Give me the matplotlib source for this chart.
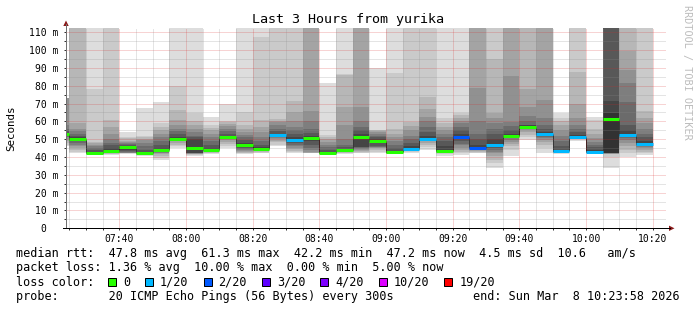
import matplotlib
matplotlib.use("Agg")
import matplotlib.pyplot as plt
from matplotlib.patches import Rectangle, Polygon
from matplotlib.lines import Line2D

plt.rcParams['font.family'] = ['DejaVu Sans Mono']

# ---------------- data ----------------
bar_start = ["07:20", "07:25", "07:30", "07:35", "07:40", "07:45", "07:50", "07:55",
             "08:00", "08:05", "08:10", "08:15", "08:20", "08:25", "08:30", "08:35",
             "08:40", "08:45", "08:50", "08:55", "09:00", "09:05", "09:10", "09:15",
             "09:20", "09:25", "09:30", "09:35", "09:40", "09:45", "09:50", "09:55",
             "10:00", "10:05", "10:10", "10:15"]

median_ms = [52.7, 49.9, 42.2, 43.6, 45.4, 42.4, 43.9, 50.3, 45.1, 43.9, 51.2, 46.7,
             44.5, 52.2, 49.4, 50.5, 42.4, 43.9, 51.1, 49.2, 42.6, 44.7, 50.3, 43.6,
             51.4, 44.9, 46.7, 51.8, 57.0, 52.9, 43.2, 51.4, 42.8, 61.3, 52.5, 47.2]

loss_count = [0, 0, 0, 0, 0, 0, 0, 0, 0, 0, 0, 0,
              0, 1, 1, 0, 0, 0, 0, 0, 0, 1, 1, 0,
              2, 2, 1, 0, 0, 1, 1, 1, 1, 0, 1, 1]

# 20 sorted ping times (ms) per 5-minute step
smoke_pings = [
    [46, 47, 48, 49, 50, 51, 51.5, 52, 52.3, 52.5, 52.9, 53.5, 54.5, 56, 58, 72.9, 72.9, 72.9, 72.9, 72.9],
    [42, 43, 44, 45, 46, 47, 48, 49, 49.5, 49.8, 50.1, 51, 52, 53, 54.5, 56, 59, 115, 120, 130],
    [41.3, 41.5, 41.7, 41.9, 42, 42.1, 42.2, 42.3, 42.3, 42.4, 42.5, 43, 44, 45, 46, 47, 48, 48.6, 78, 115],
    [41.3, 41.5, 41.8, 42, 42.3, 42.6, 43, 43.2, 43.4, 43.6, 43.8, 45, 46.5, 48, 50, 53, 57, 61, 115, 120],
    [41.8, 42, 42.1, 42.2, 42.3, 42.5, 42.8, 43.2, 44, 45.3, 45.6, 46.3, 46.8, 47.3, 47.8, 48.3, 48.8, 50.5, 51.4, 54.2],
    [40.5, 41, 41.5, 41.8, 42, 42.2, 42.3, 42.4, 42.5, 42.6, 42.7, 43, 44, 46, 48, 49.5, 50, 51, 52, 67.7],
    [38.3, 39.5, 40.5, 41.5, 42, 42.5, 43, 43.3, 43.6, 43.8, 44, 45, 47, 49, 51, 53, 55, 57, 59, 70.7],
    [45, 46, 47, 48, 48.8, 49.3, 49.7, 50, 50.2, 50.3, 50.5, 51.5, 53, 54.5, 56, 58, 61, 66.4, 79.8, 115],
    [40.6, 41.2, 41.5, 41.7, 41.9, 42, 42.1, 42.2, 42.3, 45, 45.4, 50, 51, 52, 54, 56, 58, 60, 64.9, 115],
    [41.5, 42, 42.5, 43, 43.3, 43.5, 43.7, 43.8, 43.9, 43.9, 44, 45, 47, 49, 51, 53, 55, 56.5, 58, 62.6],
    [45, 46, 47.5, 48.5, 49.5, 50, 50.5, 50.8, 51, 51.2, 51.4, 52, 53, 54.5, 56, 57.5, 58.5, 59.5, 60, 69.7],
    [41.5, 42, 42.5, 43, 43.5, 44, 44.5, 45, 45.8, 46.5, 46.9, 48, 49.5, 51, 52.5, 54, 56, 58, 65.4, 115],
    [42, 42.5, 43, 43.3, 43.6, 43.9, 44.1, 44.3, 44.4, 44.5, 44.6, 45.5, 47, 49, 51, 54, 57, 60.8, 107.5, 115],
    [46.2, 47, 48.2, 49, 50, 50.8, 51.2, 51.6, 51.9, 52.1, 52.4, 53, 54.5, 56, 58, 59.5, 60.5, 61.2, 115, 120],
    [42.1, 42.8, 43.5, 44.3, 45, 46, 47, 48, 48.7, 49.2, 49.5, 51, 53, 55, 57, 60, 65.4, 71.6, 115, 120],
    [42, 42.1, 42.2, 42.5, 43, 44, 45, 47, 49, 50.4, 50.7, 52, 53.5, 56, 60, 65.8, 115, 118, 120, 125],
    [41.5, 41.8, 42, 42.1, 42.2, 42.3, 42.3, 42.4, 42.4, 42.4, 42.5, 43, 44, 45.5, 47, 48.5, 50, 51.5, 52.5, 81.7],
    [41.5, 42, 42.3, 42.6, 42.8, 43, 43.2, 43.4, 43.6, 43.8, 44, 44.5, 45.5, 47, 50, 58, 68.3, 86, 86.6, 115],
    [42, 42.5, 43, 43.5, 44, 44.5, 45, 45.5, 45.8, 51, 51.3, 53, 55, 57, 60, 68.2, 115, 118, 120, 125],
    [42, 43, 44, 44.8, 45.3, 45.6, 45.8, 46, 48.5, 49, 49.4, 50, 51, 52, 53, 54, 54.5, 55, 55.2, 89.8],
    [41.5, 41.8, 42, 42.2, 42.3, 42.4, 42.5, 42.5, 42.6, 42.6, 42.7, 43.5, 45, 47, 49, 51, 53, 56, 87.3, 115],
    [42.4, 42.8, 43.2, 43.6, 44, 44.2, 44.3, 44.4, 44.5, 44.6, 44.8, 46, 48, 50, 52, 55, 57.5, 59.8, 115, 120],
    [44, 45.5, 47, 48, 48.8, 49.3, 49.6, 49.8, 50, 50.2, 50.4, 52, 54, 57, 60, 62.3, 66.8, 73.9, 115, 120],
    [40.6, 41.5, 42, 42.5, 42.8, 43, 43.2, 43.3, 43.4, 43.5, 43.7, 46, 49, 51, 53, 55, 57, 59, 61.7, 115],
    [40.9, 42, 43, 44, 45, 46.5, 47.5, 49, 50.5, 51.2, 51.6, 53, 55, 57, 59, 60.5, 62, 63.5, 64.5, 115],
    [42.1, 42.5, 43, 43.5, 44, 44.3, 44.6, 44.8, 44.9, 44.9, 45, 47, 50, 53, 60, 78.6, 115, 118, 120, 125],
    [33.7, 36.5, 38.5, 40.5, 42, 43, 44, 45, 46, 46.5, 47, 50, 53, 56, 59, 62, 64.5, 94.8, 115, 120],
    [40.6, 44, 46, 47.5, 48.5, 49.5, 50.5, 51, 51.5, 51.7, 51.9, 53, 55, 57.5, 59.8, 85.5, 115, 118, 120, 125],
    [49.6, 51, 52.5, 54, 55, 55.8, 56.3, 56.6, 56.8, 57, 57.2, 57.8, 58.2, 60, 63, 68.2, 78, 115, 120, 125],
    [42.4, 45, 47, 48.5, 49.5, 50.5, 51.5, 52, 52.5, 52.8, 53.1, 54, 56, 58, 62, 72, 115, 118, 120, 125],
    [41.5, 42, 42.3, 42.5, 42.7, 42.8, 42.9, 43, 43, 43.1, 43.3, 44, 46, 49, 52, 55, 58, 60, 61.7, 64.5],
    [49.2, 50, 50.5, 50.8, 51, 51.1, 51.2, 51.3, 51.3, 51.4, 51.5, 52.5, 54, 56, 58, 62, 70, 87.9, 115, 120],
    [42, 42.3, 42.5, 42.6, 42.7, 42.8, 42.8, 42.9, 42.9, 43, 43.1, 44, 45.5, 47, 48.5, 50.5, 53, 56, 61, 62.6],
    [33.7, 40, 41.5, 41.8, 41.9, 42, 42, 42.1, 42.2, 42.3, 64.6, 71.4, 115, 116, 117, 118, 119, 120, 121, 122],
    [40.2, 42, 44, 46, 48, 49.5, 50.5, 51.5, 52, 52.3, 52.6, 55, 58, 71, 81.4, 88.8, 99.7, 115, 120, 125],
    [41.1, 42, 43, 44, 45, 45.8, 46.3, 46.8, 47.1, 47.3, 47.6, 49, 51, 53, 56, 59, 62, 66, 115, 120],
]

loss_levels = [0, 1, 2, 3, 4, 10, 19]
loss_labels = ["0", "1/20", "2/20", "3/20", "4/20", "10/20", "19/20"]
loss_colors = ["#26ff00", "#00b8ff", "#0059ff", "#5e00ff", "#7e00ff", "#dd00ff", "#ff0000"]

y_tick_values = [0, 10, 20, 30, 40, 50, 60, 70, 80, 90, 100, 110]
y_tick_labels = ["0  ", "10 m", "20 m", "30 m", "40 m", "50 m", "60 m", "70 m",
                 "80 m", "90 m", "100 m", "110 m"]
x_tick_labels = ["07:40", "08:00", "08:20", "08:40", "09:00", "09:20", "09:40", "10:00", "10:20"]

title = "Last 3 Hours from yurika"
line_rtt = "median rtt:  47.8 ms avg  61.3 ms max  42.2 ms min  47.2 ms now  4.5 ms sd  10.6   am/s"
line_loss = "packet loss: 1.36 % avg  10.00 % max  0.00 % min  5.00 % now"
line_probe = "probe:       20 ICMP Echo Pings (56 Bytes) every 300s"
line_end = "end: Sun Mar  8 10:23:58 2026"
x_start, x_end = "07:23:58", "10:23:58"


# ---------------- drawing ----------------
def minutes(s):
    parts = [int(p) for p in s.split(":")]
    return parts[0] * 60 + parts[1] + (parts[2] / 60 if len(parts) > 2 else 0)


W, H = 697, 310
fig = plt.figure(figsize=(W / 100, H / 100), dpi=100, facecolor="white")
PX = 0.72  # one pixel in points


def fx(x):
    return x / W


def fy(y):
    return 1 - y / H


ax_left, ax_top, ax_bottom = 66, 28.3, 228.3
ax = fig.add_axes([fx(ax_left), fy(ax_bottom), 600 / W, (ax_bottom - ax_top) / H])
ax.set_facecolor("white")
ax.set_xlim(minutes(x_start), minutes(x_end))
ax.set_ylim(0, 112.25)
for sp in ax.spines.values():
    sp.set_visible(False)

step = 5
grays = ["#%02x%02x%02x" % ((int(190 / 10 * (10 - k)) + 50,) * 3) for k in range(1, 11)]

# smoke
for i, s in enumerate(bar_start):
    t0 = minutes(s)
    p = smoke_pings[i]
    for k in range(10):
        lo, hi = p[k], p[19 - k]
        ax.bar(t0, hi - lo, bottom=lo, width=step, align="edge", color=grays[k],
               linewidth=0, antialiased=False, zorder=1)

# black step connectors between medians
for i in range(1, len(bar_start)):
    t = minutes(bar_start[i])
    ax.vlines(t, median_ms[i - 1], median_ms[i], color="#202020", lw=PX, zorder=2)

# grid
xmin, xmax = ax.get_xlim()
minor_col = (0.55, 0.55, 0.55, 0.45)
major_col = (0.85, 0.15, 0.15, 0.40)
ds = (0, (1, 1))
for v in range(5, 112, 5):
    col = major_col if v % 10 == 0 else minor_col
    ax.axhline(v, color=col, lw=PX, ls=ds, zorder=3)
t = minutes("07:25")
while t < xmax:
    col = major_col if int(round(t)) % 20 == 0 else minor_col
    ax.axvline(t, color=col, lw=PX, ls=ds, zorder=3)
    t += step

# loss-coloured median segments
def loss_color(n):
    c = loss_colors[0]
    for lv, cc in zip(loss_levels, loss_colors):
        if n >= lv:
            c = cc
    return c

for i, s in enumerate(bar_start):
    t0 = minutes(s)
    ax.hlines(median_ms[i], t0, t0 + step, color=loss_color(loss_count[i]),
              lw=3 * PX, zorder=4, capstyle="butt")

# ticks
ax.set_yticks(y_tick_values)
ax.set_yticklabels(y_tick_labels)
ax.set_yticks(list(range(5, 112, 10)), minor=True)
xt = [minutes(s) for s in x_tick_labels]
ax.set_xticks(xt)
ax.set_xticklabels(x_tick_labels)
minor_x = []
t = minutes("07:25")
while t < xmax:
    minor_x.append(t)
    t += step
ax.set_xticks(minor_x, minor=True)
ax.tick_params(axis="both", which="both", direction="out", length=2 * PX, width=PX,
               color="#333333", labelsize=7, labelcolor="black")
ax.tick_params(axis="y", which="major", pad=4.2)
ax.tick_params(axis="x", which="major", pad=3.0)

# axis lines and arrows (in figure pixels)
fig.add_artist(Line2D([fx(66), fx(66)], [fy(ax_bottom), fy(24)], color="#707070", lw=PX))
fig.add_artist(Line2D([fx(62.5), fx(670)], [fy(ax_bottom), fy(ax_bottom)], color="black", lw=PX))
fig.add_artist(Polygon([(fx(63.3), fy(26)), (fx(68.7), fy(26)), (fx(66), fy(20.5))],
                       closed=True, color="#8b1a1a", lw=0))
fig.add_artist(Polygon([(fx(669), fy(225.6)), (fx(669), fy(231)), (fx(674.5), fy(ax_bottom))],
                       closed=True, color="#8b1a1a", lw=0))

# texts
fig.text(fx(348), fy(19), title, ha="center", va="center", fontsize=9.6, color="black")
fig.text(fx(11), fy(128), "Seconds", rotation=90, ha="center", va="center", fontsize=7.8)
fig.text(fx(687), fy(5), "RRDTOOL / TOBI OETIKER", rotation=270, ha="center", va="top",
         fontsize=7.3, color="#bcbcbc")

fs = 8.5
cw = 7.1
fig.text(fx(16), fy(254), line_rtt, ha="left", va="center", fontsize=fs)
fig.text(fx(16), fy(268), line_loss, ha="left", va="center", fontsize=fs)
fig.text(fx(16), fy(282), "loss color:", ha="left", va="center", fontsize=fs)
fig.text(fx(16), fy(296.5), line_probe, ha="left", va="center", fontsize=fs)
fig.text(fx(680), fy(296.5), line_end, ha="right", va="center", fontsize=fs)

bx = 108
for lab, col in zip(loss_labels, loss_colors):
    fig.add_artist(Rectangle((fx(bx), fy(286)), 8 / W, 8 / H, facecolor=col,
                             edgecolor="black", lw=PX, transform=fig.transFigure))
    tx = bx + 15
    fig.text(fx(tx), fy(282), lab, ha="left", va="center", fontsize=fs)
    bx = tx + len(lab) * cw + 15

fig.savefig("out.png", dpi=100, facecolor="white")
